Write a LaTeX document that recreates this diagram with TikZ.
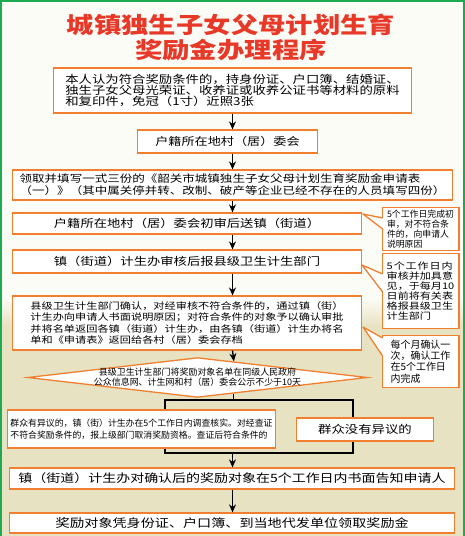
\documentclass[tikz,border=0pt]{standalone}
\usepackage{fontspec}
\usetikzlibrary{shapes.geometric,arrows.meta}
\newfontfamily\cjk[FakeStretch=1.22]{Noto Sans CJK SC}
\newfontfamily\cjkn{Noto Sans CJK SC}
\definecolor{boxline}{RGB}{240,128,48}
\definecolor{titlered}{RGB}{232,56,40}
\definecolor{edgegreen}{RGB}{30,170,80}
\definecolor{bgtop}{RGB}{252,252,247}
\definecolor{bgtan}{RGB}{231,226,194}
\newcommand{\fs}[2]{\fontsize{#1}{#2}\selectfont}

\begin{document}
\begin{tikzpicture}[x=1bp,y=-1bp,>={Stealth[length=8bp,width=7bp]},
  box/.style={draw=boxline,line width=1.3bp,fill=white,inner sep=0pt},
  note/.style={box,align=left,minimum width=77,anchor=north},
  link/.style={line width=1.4bp,->},
  pointer/.style={draw=boxline,line width=1.3bp,line join=round}]
  \useasboundingbox (0,0) rectangle (465,536);
  \fill[bgtop] (0,0) rectangle (465,536);
  \shade[top color=bgtop,bottom color=bgtan] (0,298) rectangle (465,326);
  \fill[bgtan] (0,326) rectangle (465,536);
  \draw[edgegreen,line width=2bp] (1,536) -- (1,1) -- (463.5,1) -- (463.5,536);
  \node[titlered,align=center,font={\cjk\bfseries\fs{22.5}{25}}] (title) at (231,37.5) {城镇独生子女父母计划生育\\奖励金办理程序};
  \node[box,minimum width=359,minimum height=45,align=left,font={\cjk\fs{11}{10.7}}] (apply) at (232.5,90.5) {本人认为符合奖励条件的，持身份证、户口簿、结婚证、\\独生子女父母光荣证、收养证或收养公证书等材料的原料\\和复印件，免冠（1寸）近照3张};
  \node[box,minimum width=181,minimum height=23,font={\cjk\fs{10.8}{13}}] (village) at (227.5,141.5) {户籍所在地村（居）委会};
  \node[box,minimum width=441,minimum height=30,align=left,font={\cjk\fs{10.3}{12}}] (form) at (232.5,185) {领取并填写一式三份的《韶关市城镇独生子女父母计划生育奖励金申请表\\（一）》（其中属关停并转、改制、破产等企业已经不存在的人员填写四份）};
  \node[box,minimum width=350,minimum height=21,font={\cjk\fs{10.95}{13}}] (prelim) at (187,223.5) {户籍所在地村（居）委会初审后送镇（街道）};
  \node[box,minimum width=350,minimum height=23,font={\cjk\fs{10.95}{13}}] (review) at (187,261.5) {镇（街道）计生办审核后报县级卫生计生部门};
  \node[box,minimum width=350,minimum height=54,align=left,font={\cjk\fs{9.2}{11.3}}] (confirm) at (187,323) {县级卫生计生部门确认，对经审核不符合条件的，通过镇（街）\\计生办向申请人书面说明原因；对符合条件的对象予以确认审批\\并将名单返回各镇（街道）计生办，由各镇（街道）计生办将名\\单和《申请表》返回给各村（居）委会存档};
  \node[box,diamond,minimum width=341,minimum height=40] (notice) at (197.5,377.5) {};
  \node[font={\cjkn\fs{9}{10}},align=center] (noticetext) at (notice.center) {县级卫生计生部门将奖励对象名单在同级人民政府\\公众信息网、计生网和村（居）委会公示不少于10天};
  \coordinate (splitL) at (165,400);
  \coordinate (joinR) at (353,453);
  \coordinate (join) at (232.5,453);
  \draw[line width=1.2bp] (splitL) rectangle (joinR);
  \draw[line width=1.2bp] (notice.-24.6) -- (notice.-24.6 |- splitL);
  \node[box,minimum width=269,minimum height=38,align=left,font={\cjkn\fs{8.9}{12}}] (objection) at (141.5,429) {群众有异议的，镇（街）计生办在5个工作日内调查核实。对经查证\\不符合奖励条件的，报上级部门取消奖励资格。查证后符合条件的};
  \node[box,minimum width=138,minimum height=23,font={\cjk\fs{11}{13}}] (noobj) at (365,429.5) {群众没有异议的};
  \node[box,minimum width=446,minimum height=21,font={\cjk\fs{11.5}{13}}] (inform) at (232,478.5) {镇（街道）计生办对确认后的奖励对象在5个工作日内书面告知申请人};
  \node[box,minimum width=446,minimum height=20,font={\cjk\fs{11.6}{13}}] (collect) at (232,523) {{\fs{12}{13}奖励}对象凭身份证、户口簿、到当地代发单位领取奖励金};
  \node[note,minimum height=43,font={\cjkn\fs{8.9}{10}}] (noteA) at (420.5,207) {5个工作日完成初\\审，对不符合条\\件的，向申请人\\说明原因};
  \node[note,minimum height=75,font={\cjk\fs{9.1}{10.2}}] (noteB) at (420.5,253) {\makebox[66bp][s]{5\hfil 个\hfil 工\hfil 作\hfil 日\hfil 内}\\审核并加具意\\见，于每月10\\日前将有关表\\格报县级卫生\\计生部门};
  \node[note,minimum height=52,font={\cjkn\fs{10}{11.3}}] (noteC) at (420.5,335) {每个月确认一\\次，确认工作\\在5个工作日\\内完成};
  \coordinate (tipA) at (363,214);
  \coordinate (tipB) at (362,265);
  \coordinate (tipC) at (363,327);
  \fill[white] (tipA) -- (383,218) -- (383,229) -- cycle;
  \draw[pointer] (382.6,218) -- (tipA) -- (382.6,229);
  \fill[white] (tipB) -- (383,274) -- (383,292) -- cycle;
  \draw[pointer] (382.6,274) -- (tipB) -- (382.6,292);
  \fill[white] (tipC) -- (383,338) -- (383,356) -- cycle;
  \draw[pointer] (382.6,338) -- (tipC) -- (382.6,356);
  \draw[link] (apply.south) -- (apply.south |- village.north);
  \draw[link] (apply.south |- village.south) -- (apply.south |- form.north);
  \draw[link] (apply.south |- form.south) -- (apply.south |- prelim.north);
  \draw[link] (apply.south |- prelim.south) -- (apply.south |- review.north);
  \draw[link] (apply.south |- review.south) -- (apply.south |- confirm.north);
  \draw[link] (apply.south |- confirm.south) -- (notice.24.6);
  \draw[link] (join) -- (join |- inform.north);
  \draw[link] (join |- inform.south) -- (join |- collect.north);
\end{tikzpicture}
\end{document}
